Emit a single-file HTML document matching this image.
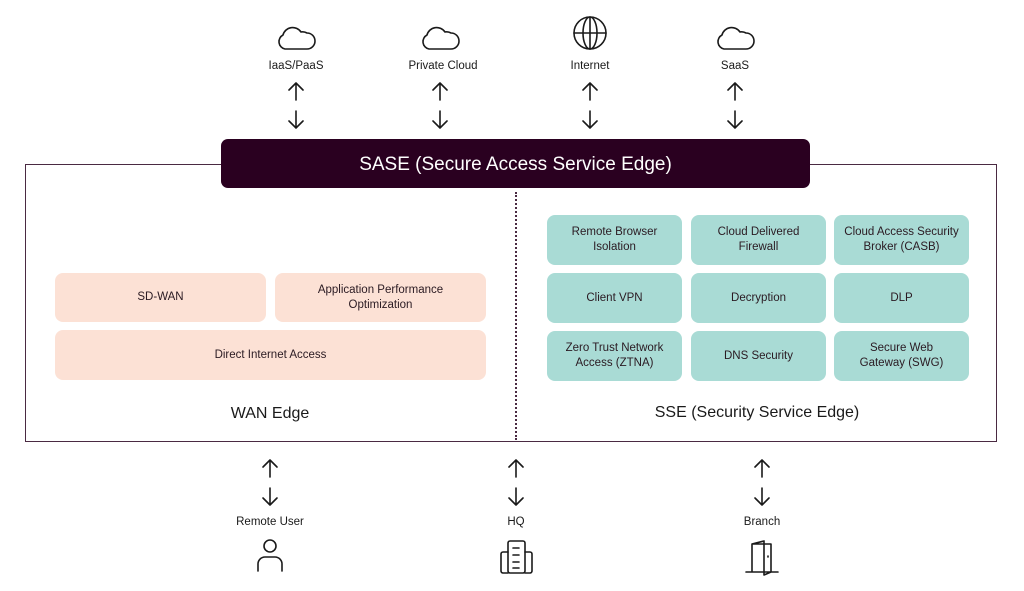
<!DOCTYPE html>
<html><head><meta charset="utf-8"><style>
body{margin:0;width:1024px;height:591px;background:#fff;position:relative;overflow:hidden;font-family:"Liberation Sans",sans-serif;color:#1a1a1a}
.a{position:absolute}
.box{position:absolute;display:flex;align-items:center;justify-content:center;text-align:center;font-size:11.5px;line-height:15px;border-radius:8px;color:#2a1a22}
.p{background:#fce1d5}
.t{background:#a9dbd5}
.lbl{position:absolute;font-size:11.5px;text-align:center;width:140px;margin-left:-70px}
</style></head><body>
<div class="a" style="left:25px;top:164px;width:970px;height:276px;border:1.5px solid #4a2a42"></div>
<div class="a" style="left:221px;top:139px;width:589px;height:49px;background:#2a0020;border-radius:7px;color:#fff;font-size:19px;display:flex;align-items:center;justify-content:center;padding-top:2px;box-sizing:border-box">SASE (Secure Access Service Edge)</div>
<div class="a" style="left:515px;top:192px;height:248px;border-left:2px dotted #4a2a42"></div>

<div class="box p" style="left:55px;top:273px;width:211px;height:49px">SD-WAN</div>
<div class="box p" style="left:275px;top:273px;width:211px;height:49px">Application Performance<br>Optimization</div>
<div class="box p" style="left:55px;top:330px;width:431px;height:50px">Direct Internet Access</div>
<div class="a" style="left:170px;top:405px;width:200px;text-align:center;font-size:16px">WAN Edge</div>

<div class="box t" style="left:547px;top:215px;width:135px;height:50px">Remote Browser<br>Isolation</div>
<div class="box t" style="left:691px;top:215px;width:135px;height:50px">Cloud Delivered<br>Firewall</div>
<div class="box t" style="left:834px;top:215px;width:135px;height:50px">Cloud Access Security<br>Broker (CASB)</div>
<div class="box t" style="left:547px;top:273px;width:135px;height:50px">Client VPN</div>
<div class="box t" style="left:691px;top:273px;width:135px;height:50px">Decryption</div>
<div class="box t" style="left:834px;top:273px;width:135px;height:50px">DLP</div>
<div class="box t" style="left:547px;top:331px;width:135px;height:50px">Zero Trust Network<br>Access (ZTNA)</div>
<div class="box t" style="left:691px;top:331px;width:135px;height:50px">DNS Security</div>
<div class="box t" style="left:834px;top:331px;width:135px;height:50px">Secure Web<br>Gateway (SWG)</div>
<div class="a" style="left:607px;top:404px;width:300px;text-align:center;font-size:16px">SSE (Security Service Edge)</div>

<div class="lbl" style="left:296px;top:60px">IaaS/PaaS</div>
<div class="lbl" style="left:443px;top:60px">Private Cloud</div>
<div class="lbl" style="left:590px;top:60px">Internet</div>
<div class="lbl" style="left:735px;top:60px">SaaS</div>
<div class="lbl" style="left:270px;top:516px">Remote User</div>
<div class="lbl" style="left:516px;top:516px">HQ</div>
<div class="lbl" style="left:762px;top:516px">Branch</div>

<svg class="a" style="left:0;top:0" width="1024" height="591" fill="none" stroke="#1a1a1a" stroke-width="1.6" stroke-linecap="round" stroke-linejoin="round">
<defs>
<g id="ar"><path d="M0 0V17M-7 7L0 0L7 7M0 28V45M-7 38L0 45L7 38"/></g>
<g id="cl"><path d="M-12 12H10A8 8 0 0 0 10 -4A9 9 0 0 0 4 -5A10 10 0 0 0 -14 -2A7.5 7.5 0 0 0 -12 12Z"/></g>
</defs>
<use href="#ar" x="296" y="83"/><use href="#ar" x="440" y="83"/><use href="#ar" x="590" y="83"/><use href="#ar" x="735" y="83"/>
<use href="#ar" x="270" y="460"/><use href="#ar" x="516" y="460"/><use href="#ar" x="762" y="460"/>
<use href="#cl" x="297" y="37"/><use href="#cl" x="441" y="37"/><use href="#cl" x="736" y="37"/>
<g transform="translate(590,33)"><circle r="16"/><ellipse rx="7" ry="16"/><path d="M-16 0H16M0 -16V16"/></g>
<circle cx="270" cy="546" r="6"/><path d="M258 571V564A7 7 0 0 1 265 557H275A7 7 0 0 1 282 564V571"/>
<rect x="508" y="541" width="17" height="32" rx="2"/><path d="M508 552H503A2 2 0 0 0 501 554V571A2 2 0 0 0 503 573H508M525 552H530A2 2 0 0 1 532 554V571A2 2 0 0 1 530 573H525M513 548H519M513 555H519M513 562H519M513 568H519"/>
<path d="M746 572H778M752 572V544H771V572M752 544L764 541V575L771 572M768 556v1"/>
</svg>
</body></html>
